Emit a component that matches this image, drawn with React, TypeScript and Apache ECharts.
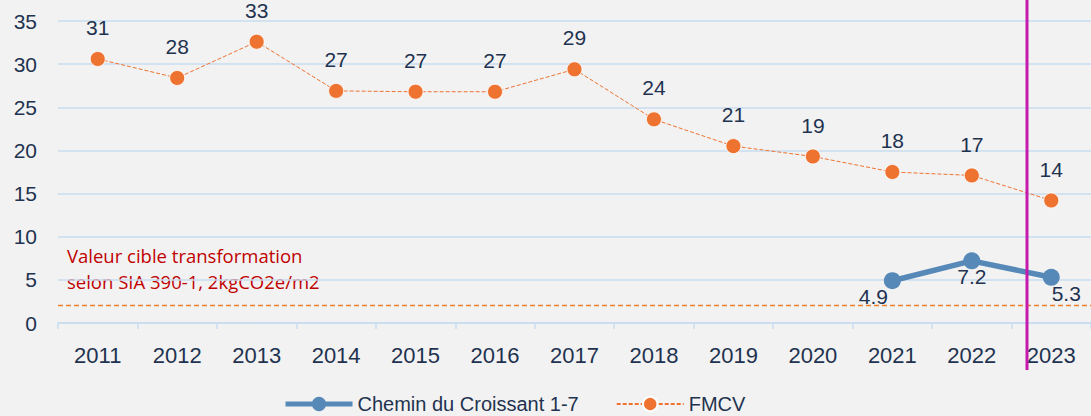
import React, { useEffect, useRef } from "react";
import * as echarts from "echarts";

const years = ["2011", "2012", "2013", "2014", "2015", "2016", "2017", "2018", "2019", "2020", "2021", "2022", "2023"];
const fmcv = [30.6, 28.4, 32.6, 26.9, 26.8, 26.8, 29.4, 23.6, 20.5, 19.3, 17.5, 17.1, 14.2];
const fmcvLabels = ["31", "28", "33", "27", "27", "27", "29", "24", "21", "19", "18", "17", "14"];
const croissant = [null, null, null, null, null, null, null, null, null, null, 4.9, 7.2, 5.3];
const croissantLabelShift = [0, 0, 0, 0, 0, 0, 0, 0, 0, 0, -19, 0, 15];
const targetValue = 2;
const targetText = ["Valeur cible transformation", "selon SIA 390-1, 2kgCO2e/m2"];
const seriesNames = ["Chemin du Croissant 1-7", "FMCV"];

const NAVY = "#1F3350";
const GRID = "#C9DDF0";
const ORANGE = "#EE7230";
const BLUE = "#5689B8";
const FONT = "Liberation Sans";
const FS = 22;

export default function App() {
  const ref = useRef<HTMLDivElement>(null);
  useEffect(() => {
    if (!ref.current) return;
    const chart = echarts.init(ref.current, null, { renderer: "svg" });
    chart.setOption({
      animation: false,
      backgroundColor: "#F2F2F2",
      textStyle: { fontFamily: FONT },
      grid: { left: 58, right: -7, top: 21, bottom: 93 },
      legend: {
        top: 394,
        left: 283,
        padding: 0,
        itemWidth: 67,
        itemHeight: 18,
        itemGap: 37,
        textStyle: { color: NAVY, fontSize: 20, fontFamily: FONT },
        data: [
          { name: seriesNames[0], lineStyle: { width: 5 } },
          { name: seriesNames[1] },
        ],
      },
      xAxis: {
        type: "category",
        data: years,
        boundaryGap: true,
        axisLine: { lineStyle: { color: GRID, width: 1.5 } },
        axisTick: { show: true, interval: 0, length: 6, lineStyle: { color: GRID, width: 1.5 } },
        axisLabel: { color: NAVY, fontSize: FS, margin: 21, interval: 0, fontFamily: FONT },
      },
      yAxis: {
        type: "value",
        min: 0,
        max: 35,
        interval: 5,
        axisLine: { show: false },
        axisTick: { show: false },
        axisLabel: { color: NAVY, fontSize: 21, margin: 21, fontFamily: FONT },
        splitLine: { lineStyle: { color: GRID, width: 1.5 } },
      },
      series: [
        {
          name: seriesNames[0],
          type: "line",
          data: croissant.map((v, i) => ({
            value: v,
            label: { offset: [croissantLabelShift[i], 0] },
          })),
          symbol: "circle",
          symbolSize: 17,
          lineStyle: { color: BLUE, width: 5.5 },
          itemStyle: { color: BLUE },
          label: {
            show: true,
            position: "bottom",
            distance: -3,
            color: NAVY,
            fontSize: 21,
            fontFamily: FONT,
            formatter: (p: any) => (p.value == null ? "" : Number(p.value).toFixed(1)),
          },
          z: 3,
        },
        {
          name: seriesNames[1],
          type: "line",
          data: fmcv,
          symbol: "circle",
          symbolSize: 15,
          lineStyle: { color: ORANGE, width: 1, type: [4, 2] },
          itemStyle: { color: ORANGE, borderColor: "#FFFFFF", borderWidth: 0.8 },
          label: {
            show: true,
            position: "top",
            distance: 13,
            color: NAVY,
            fontSize: 21,
            fontFamily: FONT,
            formatter: (p: any) => fmcvLabels[p.dataIndex],
          },
          z: 2,
        },
        {
          name: "target",
          type: "line",
          data: [],
          color: "#ED7D31",
          markLine: {
            silent: true,
            symbol: "none",
            label: { show: false },
            lineStyle: { color: "#ED7D31", width: 1.3, type: [5, 3], opacity: 1 },
            data: [{ yAxis: targetValue }],
          },
          z: 1,
        },
      ],
      graphic: [
        {
          type: "text",
          left: 67,
          top: 242,
          style: {
            text: targetText.join("\n"),
            fill: "#C00000",
            font: "18.5px 'Open Sans', sans-serif",
            lineHeight: 26,
          },
        },
        {
          type: "line",
          shape: { x1: 1027, y1: 0, x2: 1027, y2: 370 },
          style: { stroke: "#C51AAE", lineWidth: 3 },
          z: 10,
        },
      ],
    });
    return () => chart.dispose();
  }, []);
  return (
    <div
      ref={ref}
      style={{ position: "fixed", left: 0, top: 0, width: 1091, height: 416 }}
    />
  );
}
